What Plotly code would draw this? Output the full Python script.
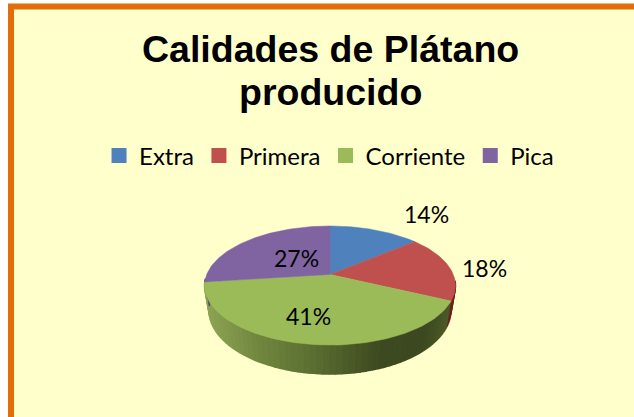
import numpy as np
import plotly.graph_objects as go

categories = ["Extra", "Primera", "Corriente", "Pica"]
values = [14, 18, 41, 27]
colors = ["#4F81BD", "#C0504D", "#9BBB59", "#8064A2"]
side_colors = ["#3A5A82", "#6E1F1F", "#9BBB59", "#5A4672"]
title_lines = ["Calidades de Plátano", "producido"]
title_y = [49, 92]
label_pos = [(426, 214), (484, 268), (308, 316), (296, 258)]

# projection of the tilted disc on the page
CX, CY, A, B, K = 330.0, 274.5, 123.3, 57.5, 0.185
D0, SHRINK = 23.6, 0.965


def project(theta):
    u, v = np.sin(theta), np.cos(theta)
    w = 1 + K * v
    return CX + A * u / w, CY - B * v / w


def project_low(theta):
    x, y = project(theta)
    w = 1 + K * np.cos(theta)
    return CX + (x - CX) * SHRINK, y + D0 / w


def side_shade(x):
    stops_x = [204, 260, 310, 380, 425, 452]
    stops_r = [142, 112, 92, 62, 60, 78]
    stops_g = [165, 134, 112, 74, 72, 92]
    stops_b = [84, 62, 50, 32, 32, 40]
    return "rgb(%d,%d,%d)" % (
        np.interp(x, stops_x, stops_r),
        np.interp(x, stops_x, stops_g),
        np.interp(x, stops_x, stops_b),
    )


fig = go.Figure()

edges = np.cumsum([0] + values) / sum(values) * 2 * np.pi

# side wall (only the front part of the rim shows)
for i in range(len(values)):
    lo, hi = max(edges[i], np.radians(96)), min(edges[i + 1], np.radians(266))
    if hi <= lo:
        continue
    n = max(2, int(np.degrees(hi - lo) / 2.5))
    ts = np.linspace(lo, hi, n + 1)
    for a, b in zip(ts[:-1], ts[1:]):
        seg = np.linspace(a, b, 3)
        xt, yt = project(seg)
        xb, yb = project_low(seg[::-1])
        xm = float(project((a + b) / 2)[0])
        c = side_shade(xm) if categories[i] == "Corriente" else side_colors[i]
        fig.add_trace(go.Scatter(
            x=np.r_[xt, xb], y=np.r_[yt, yb], mode="lines", fill="toself",
            fillcolor=c, line=dict(color=c, width=1.5),
            showlegend=False, hoverinfo="skip"))

# top face
for i, cat in enumerate(categories):
    ts = np.linspace(edges[i], edges[i + 1], 90)
    xs, ys = project(ts)
    fig.add_trace(go.Scatter(
        x=np.r_[CX, xs, CX], y=np.r_[CY, ys, CY], mode="lines", fill="toself",
        fillcolor=colors[i], line=dict(color=colors[i], width=0.5),
        showlegend=False, name=cat, hoverinfo="skip"))

# legend entries
for cat, col in zip(categories, colors):
    fig.add_trace(go.Scatter(
        x=[None], y=[None], mode="markers", name=cat,
        marker=dict(symbol="square", size=15, color=col)))

annotations = [
    dict(x=x, y=y, text=f"{v}%", showarrow=False,
         font=dict(family="Lato", size=23, color="#000000"))
    for (x, y), v in zip(label_pos, values)
]
for line, y in zip(title_lines, title_y):
    annotations.append(dict(
        x=330, y=y, text=f"<b>{line}</b>", showarrow=False,
        font=dict(family="Liberation Sans", size=37.5, color="#000000"),
        align="center", yanchor="middle"))

fig.update_layout(
    width=634, height=417,
    margin=dict(l=0, r=0, t=0, b=0),
    paper_bgcolor="#FFFFFF", plot_bgcolor="rgba(0,0,0,0)",
    xaxis=dict(range=[0, 634], visible=False, fixedrange=True),
    yaxis=dict(range=[417, 0], visible=False, fixedrange=True),
    annotations=annotations,
    legend=dict(orientation="h", x=0.519, xanchor="center", y=1 - 156 / 417,
                yanchor="middle", font=dict(family="Lato", size=24, color="#000000"),
                bgcolor="rgba(0,0,0,0)", itemclick=False, itemdoubleclick=False),
    shapes=[dict(type="rect", layer="below", x0=11, y0=6.5, x1=720, y1=520,
                 fillcolor="#FFFFCC", line=dict(color="#E46C0A", width=6))],
)

fig.write_html("out.html", config=dict(displayModeBar=False),
               post_script="document.body.style.margin='0';document.documentElement.style.overflow='hidden';window.dispatchEvent(new Event('resize'));")
